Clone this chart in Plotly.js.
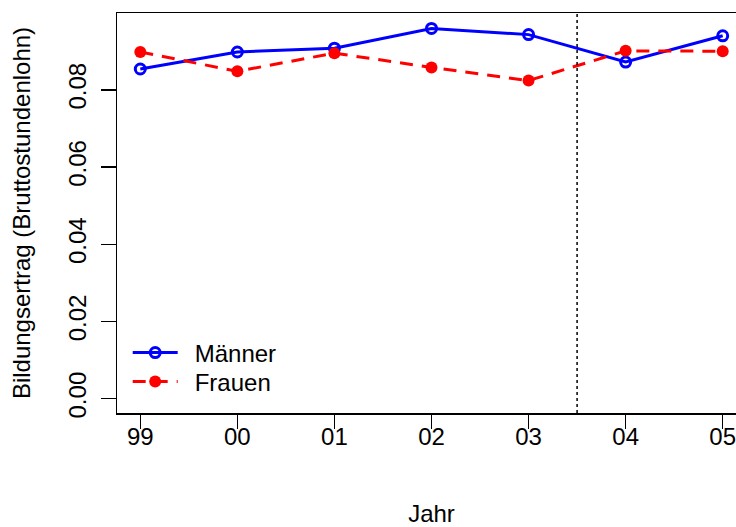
<!DOCTYPE html>
<html>
<head>
<meta charset="utf-8">
<script src="https://cdn.plot.ly/plotly-3.0.1.min.js"></script>
<style>
html,body{margin:0;padding:0;overflow:hidden;background:#fff;}
#chart{width:760px;height:527px;}
</style>
</head>
<body>
<div id="chart"></div>
<script>
// Data
const jahre = ['99', '00', '01', '02', '03', '04', '05'];
const xIndex = [1, 2, 3, 4, 5, 6, 7];
const maenner = [0.0854, 0.0898, 0.0908, 0.0959, 0.0943, 0.0872, 0.0940];
const frauen  = [0.0898, 0.0848, 0.0895, 0.0858, 0.0824, 0.0901, 0.0900];
const yTicks = [0.00, 0.02, 0.04, 0.06, 0.08];
const yTickText = ['0.00', '0.02', '0.04', '0.06', '0.08'];
const serienNamen = ['Männer', 'Frauen'];
const trennLinie = 5.5; // zwischen 03 und 04

const font = 'Liberation Sans, Arial, sans-serif';
const gap = '\u2002'; // Abstand zwischen Legendensymbol und Text

const traces = [
  {
    x: xIndex, y: maenner, name: gap + serienNamen[0], type: 'scatter', mode: 'lines+markers',
    legend: 'legend',
    line: {color: '#0000ff', width: 3, dash: 'solid'},
    marker: {symbol: 'circle-open', size: 10, color: '#0000ff', line: {width: 3, color: '#0000ff'}}
  },
  {
    x: xIndex, y: frauen, name: gap + serienNamen[1], type: 'scatter', mode: 'lines+markers',
    legend: 'legend2',
    line: {color: '#ff0000', width: 3, dash: '13px,9px'},
    marker: {symbol: 'circle', size: 12, color: '#ff0000'}
  }
];

const legendBase = {
  xanchor: 'left', yanchor: 'middle',
  bgcolor: 'rgba(0,0,0,0)', borderwidth: 0,
  font: {family: font, size: 24, color: '#000'},
  itemwidth: 45
};

const layout = {
  width: 760, height: 527,
  margin: {l: 117, r: 14, t: 13, b: 114, pad: 0},
  paper_bgcolor: '#fff', plot_bgcolor: '#fff',
  font: {family: font, size: 24, color: '#000'},
  showlegend: true,
  legend: Object.assign({x: 0.017, y: 0.15}, legendBase),
  legend2: Object.assign({x: 0.017, y: 0.078}, legendBase),
  xaxis: {
    range: [0.76, 7.24],
    tickmode: 'array', tickvals: xIndex, ticktext: jahre,
    showgrid: false, zeroline: false,
    showline: true, linecolor: '#000', linewidth: 1.5, mirror: true,
    ticks: 'outside', ticklen: 14, tickwidth: 1.5, tickcolor: '#000',
    ticklabelstandoff: -12,
    tickfont: {family: font, size: 24, color: '#000'},
    title: {text: 'Jahr', font: {family: font, size: 24, color: '#000'}, standoff: 62}
  },
  yaxis: {
    range: [-0.0037, 0.0999],
    tickmode: 'array', tickvals: yTicks, ticktext: yTickText,
    tickangle: -90,
    showgrid: false, zeroline: false,
    showline: true, linecolor: '#000', linewidth: 1.5, mirror: true,
    ticks: 'outside', ticklen: 15, tickwidth: 1.5, tickcolor: '#000',
    ticklabelstandoff: 5,
    tickfont: {family: font, size: 24, color: '#000'},
    title: {text: 'Bildungsertrag (Bruttostundenlohn)', font: {family: font, size: 24, color: '#000'}, standoff: 26}
  },
  shapes: [{
    type: 'line', xref: 'x', yref: 'paper', x0: trennLinie, x1: trennLinie, y0: 0, y1: 1,
    line: {color: '#000', width: 1.5, dash: 'dot'}
  }]
};

Plotly.newPlot('chart', traces, layout, {staticPlot: true, displayModeBar: false});
</script>
</body>
</html>
